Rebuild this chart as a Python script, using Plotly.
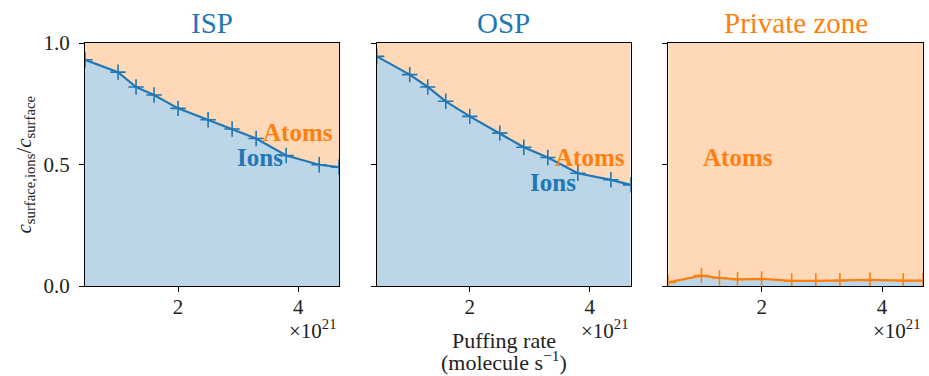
import plotly.graph_objects as go

# Data (puffing rate in units of 1e21 molecule/s)
puff = [0.45, 1.0, 1.3, 1.6, 2.0, 2.5, 2.9, 3.3, 3.8, 4.35, 4.68]
isp_ions = [0.931, 0.880, 0.819, 0.786, 0.731, 0.684, 0.646, 0.607, 0.537, 0.499, 0.489]
osp_ions = [0.945, 0.870, 0.819, 0.760, 0.698, 0.629, 0.571, 0.529, 0.464, 0.437, 0.416]
pz_ions = [0.015, 0.043, 0.033, 0.027, 0.029, 0.021, 0.021, 0.022, 0.025, 0.022, 0.022]

panel_titles = ["ISP", "OSP", "Private zone"]
x_ticks = [2, 4]
y_ticks = [0.0, 0.5, 1.0]
y_ticklabels = ["0.0", "0.5", "1.0"]

C0 = "#1f77b4"
C1 = "#ff7f0e"
BLUE_FILL = "#bcd6e8"
ORANGE_FILL = "#ffd9b7"
FONT = "Liberation Serif"

W, H = 929, 376
ml, mr, mt, mb = 85, 6, 43, 90
pw = W - ml - mr
edges = [(85, 339), (376.7, 630.7), (668.3, 923)]
domains = [[(a - ml) / pw, min(1.0, (b - ml) / pw)] for a, b in edges]

series = [isp_ions, osp_ions, pz_ions]
line_colors = [C0, C0, C1]
title_colors = [C0, C0, C1]

fig = go.Figure()
for i, ys in enumerate(series):
    xa = "x" if i == 0 else f"x{i+1}"
    ya = "y" if i == 0 else f"y{i+1}"
    fig.add_trace(go.Scatter(x=puff, y=ys, mode="lines", line=dict(width=0),
                             fill="tozeroy", fillcolor=BLUE_FILL, xaxis=xa, yaxis=ya,
                             showlegend=False, hoverinfo="skip"))
    fig.add_trace(go.Scatter(x=puff, y=[1.0] * len(puff), mode="lines", line=dict(width=0),
                             fill="tonexty", fillcolor=ORANGE_FILL, xaxis=xa, yaxis=ya,
                             showlegend=False, hoverinfo="skip"))
    fig.add_trace(go.Scatter(x=puff, y=ys, mode="lines+markers",
                             line=dict(color=line_colors[i], width=2.2),
                             marker=dict(symbol="cross-thin", size=11,
                                         line=dict(color=line_colors[i], width=1.6)),
                             xaxis=xa, yaxis=ya, showlegend=False, cliponaxis=True))

axis_common = dict(showline=True, linecolor="black", linewidth=1.2, mirror=True,
                   ticks="outside", ticklen=5, tickwidth=1.2, tickcolor="black",
                   showgrid=False, zeroline=False,
                   tickfont=dict(family=FONT, size=21, color="#222"))

layout = dict(width=W, height=H, margin=dict(l=ml, r=mr, t=mt, b=mb),
              plot_bgcolor="white", paper_bgcolor="white", showlegend=False)
for i in range(3):
    xk = "xaxis" if i == 0 else f"xaxis{i+1}"
    yk = "yaxis" if i == 0 else f"yaxis{i+1}"
    layout[xk] = dict(axis_common, domain=domains[i], range=[puff[0], puff[-1]],
                      tickvals=x_ticks, ticktext=[str(t) for t in x_ticks],
                      ticklabelstandoff=-3,
                      anchor="y" if i == 0 else f"y{i+1}")
    layout[yk] = dict(axis_common, domain=[0, 1], range=[0, 1], tickvals=y_ticks,
                      ticktext=y_ticklabels, showticklabels=(i == 0),
                      ticklabelstandoff=5,
                      anchor="x" if i == 0 else f"x{i+1}")
fig.update_layout(**layout)

ann = []
for i in range(3):
    cx = (domains[i][0] + domains[i][1]) / 2
    ann.append(dict(text=panel_titles[i], x=cx, y=1.0, xref="paper", yref="paper",
                    xanchor="center", yanchor="bottom", yshift=2, showarrow=False,
                    font=dict(family=FONT, size=29, color=title_colors[i])))
    ann.append(dict(text="×10<sup>21</sup>", x=domains[i][1], y=0, xref="paper", yref="paper",
                    xanchor="right", yanchor="middle", yshift=-43, showarrow=False,
                    font=dict(family=FONT, size=21, color="#222")))

# In-panel labels
labels = [
    ("x", "y", 4.0, 0.63, "Atoms", C1),
    ("x", "y", 3.37, 0.529, "Ions", C0),
    ("x2", "y2", 4.01, 0.529, "Atoms", C1),
    ("x2", "y2", 3.38, 0.427, "Ions", C0),
    ("x3", "y3", 1.61, 0.529, "Atoms", C1),
]
for xr, yr, x, y, t, c in labels:
    ann.append(dict(text=f"<b>{t}</b>", x=x, y=y, xref=xr, yref=yr, showarrow=False,
                    xanchor="center", yanchor="middle",
                    font=dict(family=FONT, size=25, color=c)))

# axis titles (two lines)
xc = (domains[1][0] + domains[1][1]) / 2
ann.append(dict(text="Puffing rate", x=xc, y=0, xref="paper", yref="paper",
                xanchor="center", yanchor="middle", yshift=-54, showarrow=False,
                font=dict(family=FONT, size=22, color="#222")))
ann.append(dict(text="(molecule s<sup>−1</sup>)", x=xc, y=0, xref="paper", yref="paper",
                xanchor="center", yanchor="middle", yshift=-75, showarrow=False,
                font=dict(family=FONT, size=22, color="#222")))
ann.append(dict(text="<i>c</i><sub>surface,ions</sub>/<i>c</i><sub>surface</sub>",
                x=(24 - ml) / pw, y=0.5, xref="paper", yref="paper", showarrow=False,
                textangle=-90, xanchor="center", yanchor="middle",
                font=dict(family=FONT, size=21, color="#222")))
fig.update_layout(annotations=ann)

fig.write_html("out.html", config={"displayModeBar": False},
               post_script="document.body.style.margin='0';")
